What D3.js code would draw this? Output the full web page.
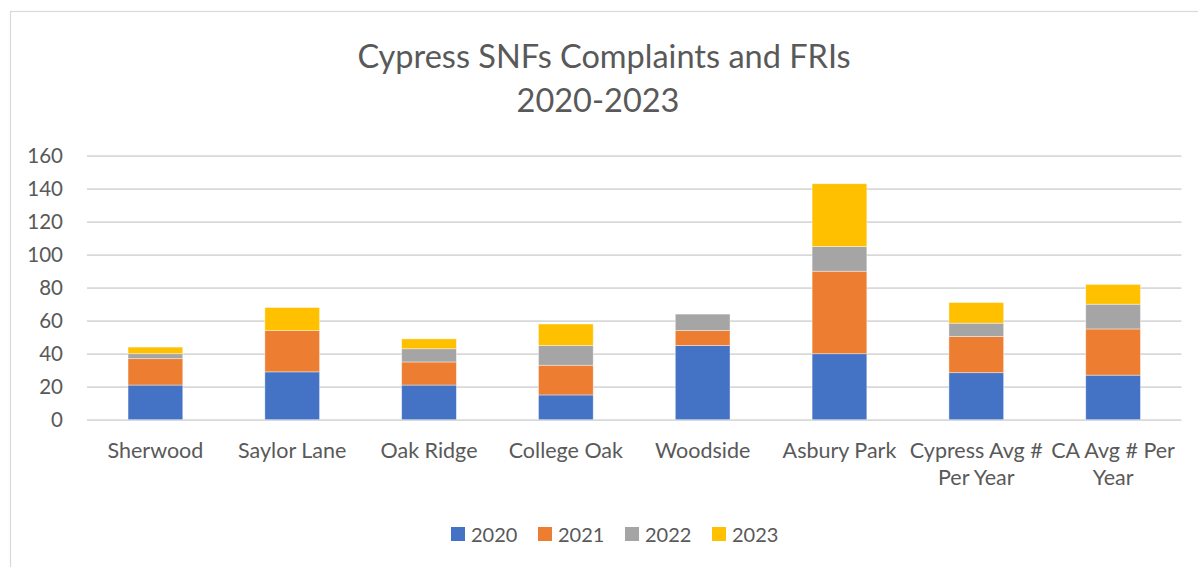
<!DOCTYPE html>
<html>
<head>
<meta charset="utf-8">
<script src="https://cdn.jsdelivr.net/npm/d3@7"></script>
<style>
  body { margin: 0; background: #fff; }
  svg text { font-family: Lato, "Open Sans", sans-serif; fill: #595959; }
</style>
</head>
<body>
<svg id="chart"></svg>
<script>
// Data
const categories = ["Sherwood", "Saylor Lane", "Oak Ridge", "College Oak", "Woodside",
    "Asbury Park", "Cypress Avg # Per Year", "CA Avg # Per Year"];
const years = ["2020", "2021", "2022", "2023"];
const values2020 = [21, 29, 21, 15, 45, 40, 28.5, 27];
const values2021 = [16, 25, 14, 18, 9, 50, 22, 28];
const values2022 = [3, 0, 8, 12, 10, 15, 8, 15];
const values2023 = [4, 14, 6, 13, 0, 38, 12.5, 12];
const yTicks = [0, 20, 40, 60, 80, 100, 120, 140, 160];
const colors = ["#4472C4", "#ED7D31", "#A5A5A5", "#FFC000"];

const W = 1198, H = 567;
const svg = d3.select("svg#chart").attr("width", W).attr("height", H);

// chart border (runs off the right and bottom like the screenshot)
svg.append("rect")
    .attr("x", 10.5).attr("y", 11.5)
    .attr("width", 1300).attr("height", 700)
    .attr("fill", "none")
    .attr("stroke", "#d9d9d9")
    .attr("stroke-width", 1.2);

// build table for stacking
const table = categories.map((c, i) => ({
    cat: c,
    "2020": values2020[i], "2021": values2021[i],
    "2022": values2022[i], "2023": values2023[i]
}));
const stacked = d3.stack().keys(years)(table);

const xScale = d3.scaleBand()
    .domain(categories)
    .range([87, 1181.5])
    .paddingInner(0.6)
    .paddingOuter(0.3);

const yScale = d3.scaleLinear()
    .domain([0, 160])
    .range([419.7, 155.7]);

// gridlines
svg.append("g")
    .attr("transform", "translate(87,0)")
    .call(d3.axisLeft(yScale).tickValues(yTicks).tickSize(-(1181.5 - 87)).tickFormat(""))
    .call(g => g.select(".domain").remove())
    .selectAll("line")
    .attr("stroke", "#d9d9d9")
    .attr("stroke-width", 1.8);

// y labels
svg.append("g")
    .attr("transform", "translate(87,0)")
    .call(d3.axisLeft(yScale).tickValues(yTicks).tickSize(0).tickPadding(24))
    .call(g => g.select(".domain").remove())
    .selectAll("text")
    .attr("font-size", "20.5px")
    .style("fill", "#595959");

// bars
svg.append("g").selectAll("g")
    .data(stacked)
    .enter().append("g")
    .attr("fill", (d, i) => colors[i])
    .selectAll("rect")
    .data(d => d)
    .enter().append("rect")
    .attr("x", d => xScale(d.data.cat))
    .attr("width", xScale.bandwidth())
    .attr("y", d => yScale(d[1]))
    .attr("height", d => yScale(d[0]) - yScale(d[1]))
    .attr("stroke", "#fff")
    .attr("stroke-opacity", 0.5)
    .attr("stroke-width", 0.8);

// x labels with word wrap
const xAxis = svg.append("g")
    .attr("transform", "translate(0,419.7)")
    .call(d3.axisBottom(xScale).tickSize(0).tickPadding(0));
xAxis.select(".domain").remove();
xAxis.selectAll("text").remove();
xAxis.selectAll(".tick").each(function(cat) {
    const t = d3.select(this).append("text")
        .attr("text-anchor", "middle")
        .attr("font-size", "21.5px")
        .attr("y", 38.5);
    const words = cat.split(" ");
    const maxW = xScale.step() + 8;
    let line = [];
    let tspan = t.append("tspan").attr("x", 0).attr("dy", 0);
    words.forEach(w => {
        line.push(w);
        tspan.text(line.join(" "));
        if (tspan.node().getComputedTextLength() > maxW && line.length > 1) {
            line.pop();
            tspan.text(line.join(" "));
            line = [w];
            tspan = t.append("tspan").attr("x", 0).attr("dy", 27).text(w);
        }
    });
});

// title
const title = svg.append("text")
    .attr("y", 68)
    .attr("text-anchor", "middle")
    .attr("font-size", "32.5px");
title.append("tspan").attr("x", 604).text("Cypress SNFs Complaints and FRIs");
title.append("tspan").attr("x", 598).attr("dy", 44).text("2020-2023");

// legend
const legend = svg.append("g").selectAll("g")
    .data(years)
    .enter().append("g")
    .attr("transform", (d, i) => `translate(${451 + i * 87},527)`);
legend.append("rect")
    .attr("width", 14).attr("height", 14)
    .attr("fill", (d, i) => colors[i]);
legend.append("text")
    .attr("x", 20).attr("y", 14.5)
    .attr("font-size", "20px")
    .text(d => d);
</script>
</body>
</html>
